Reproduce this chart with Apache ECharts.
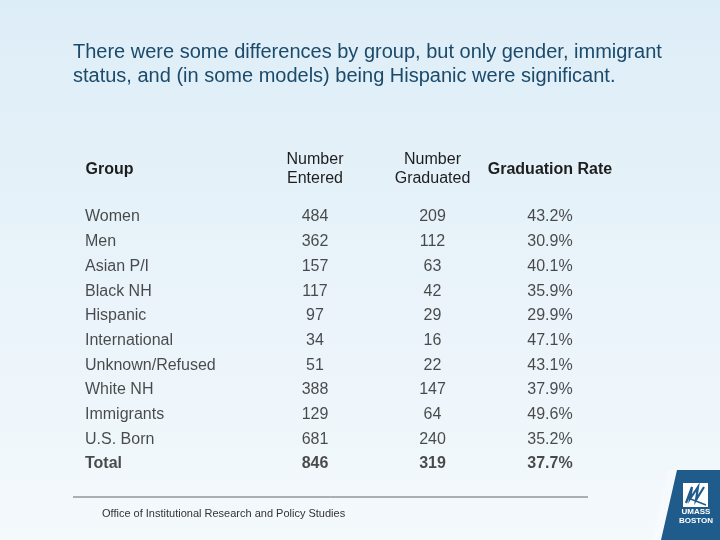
<!DOCTYPE html>
<html>
<head>
<meta charset="utf-8">
<script src="https://cdn.jsdelivr.net/npm/echarts@6/dist/echarts.min.js"></script>
<style>
html,body{margin:0;padding:0;}
#c{width:720px;height:540px;}
</style>
</head>
<body>
<div id="c"></div>
<script>
var titleText = 'There were some differences by group, but only gender, immigrant\nstatus, and (in some models) being Hispanic were significant.';
var headers = ['Group', 'Number\nEntered', 'Number\nGraduated', 'Graduation Rate'];
var groups = ['Women','Men','Asian P/I','Black NH','Hispanic','International','Unknown/Refused','White NH','Immigrants','U.S. Born','Total'];
var entered = [484,362,157,117,97,34,51,388,129,681,846];
var graduated = [209,112,63,42,29,16,22,147,64,240,319];
var rate = [43.2,30.9,40.1,35.9,29.9,47.1,43.1,37.9,49.6,35.2,37.7];
var footerText = 'Office of Institutional Research and Policy Studies';

var textColor = '#1e1e1e';
var font = 'Liberation Sans, Arial, sans-serif';
var lastRow = groups.length - 1;

function makeData(col, values, fmt) {
  return values.map(function (v, r) {
    return {
      value: [col, r],
      label: {
        formatter: fmt(v),
        fontWeight: r === lastRow ? 'bold' : 'normal'
      }
    };
  });
}

function colSeries(col, values, fmt, extra) {
  var lbl = {
    show: true, position: 'inside', color: textColor, fontSize: 16,
    fontFamily: font, align: 'center', verticalAlign: 'middle'
  };
  if (extra) { for (var k in extra) lbl[k] = extra[k]; }
  return {
    type: 'scatter', symbolSize: 0, silent: true,
    label: lbl,
    data: makeData(col, values, fmt)
  };
}

var chart = echarts.init(document.getElementById('c'), null, {renderer: 'canvas'});
chart.setOption({
  animation: false,
  backgroundColor: {
    type: 'linear', x: 0, y: 0, x2: 0, y2: 1,
    colorStops: [{offset: 0, color: '#ddedf7'}, {offset: 1, color: '#f4f9fc'}]
  },
  title: {
    text: titleText, left: 68, top: 35,
    textStyle: {color: '#1b4a6b', fontSize: 20, fontWeight: 'normal', lineHeight: 24, fontFamily: font}
  },
  grid: {left: 138.75, right: 111.25, top: 204.65, bottom: 63.65},
  xAxis: {
    type: 'category', position: 'top', data: headers,
    axisLine: {show: false}, axisTick: {show: false}, splitLine: {show: false},
    axisLabel: {
      margin: 17, interval: 0,
      formatter: function (v, i) {
        if (i === 0) return '{g|' + v + '}';
        if (i === 3) return '{s|' + v + '}';
        return '{m|' + v + '}';
      },
      rich: {
        g: {fontSize: 16, fontWeight: 'bold', color: textColor, fontFamily: font, padding: [0, 176, 10, 0]},
        s: {fontSize: 16, fontWeight: 'bold', color: textColor, fontFamily: font, padding: [0, 0, 10, 0]},
        m: {fontSize: 16, fontWeight: 'normal', color: textColor, fontFamily: font, lineHeight: 19, align: 'center'}
      }
    }
  },
  yAxis: {
    type: 'category', inverse: true, data: groups,
    axisLine: {show: false}, axisTick: {show: false}, axisLabel: {show: false}, splitLine: {show: false}
  },
  series: [
    colSeries(0, groups, function (v) { return v; }, {align: 'left', offset: [-112.5, 0]}),
    colSeries(1, entered, function (v) { return String(v); }),
    colSeries(2, graduated, function (v) { return String(v); }),
    colSeries(3, rate, function (v) { return v.toFixed(1) + '%'; })
  ],
  graphic: [
    {type: 'line', shape: {x1: 73, y1: 497, x2: 588, y2: 497}, style: {stroke: '#666', lineWidth: 1}},
    {type: 'text', left: 102, top: 508, style: {text: footerText, fontSize: 11, fill: '#333', fontFamily: font}},
    {type: 'polygon', shape: {points: [[668, 470], [720, 470], [720, 540], [652, 540]]}, style: {fill: 'rgba(255,255,255,0.35)'}},
    {type: 'polygon', shape: {points: [[677, 470], [720, 470], [720, 540], [661, 540]]}, style: {fill: '#1f5c8c'}},
    {type: 'rect', shape: {x: 683, y: 483, width: 25, height: 24}, style: {fill: '#ffffff'}},
    {type: 'polyline', shape: {points: [[686, 503], [692, 487], [690, 499], [698, 487], [696, 500], [704, 487]]}, style: {stroke: '#1f5c8c', lineWidth: 2.2, fill: null}},
    {type: 'line', shape: {x1: 688, y1: 498, x2: 706, y2: 505}, style: {stroke: '#1f5c8c', lineWidth: 1.5}},
    {type: 'text', x: 696, y: 512, style: {text: 'UMASS', fontSize: 8, fontWeight: 'bold', fill: '#ffffff', fontFamily: font, align: 'center', verticalAlign: 'middle'}},
    {type: 'text', x: 696, y: 521, style: {text: 'BOSTON', fontSize: 8, fontWeight: 'bold', fill: '#ffffff', fontFamily: font, align: 'center', verticalAlign: 'middle'}}
  ]
});
</script>
</body>
</html>
